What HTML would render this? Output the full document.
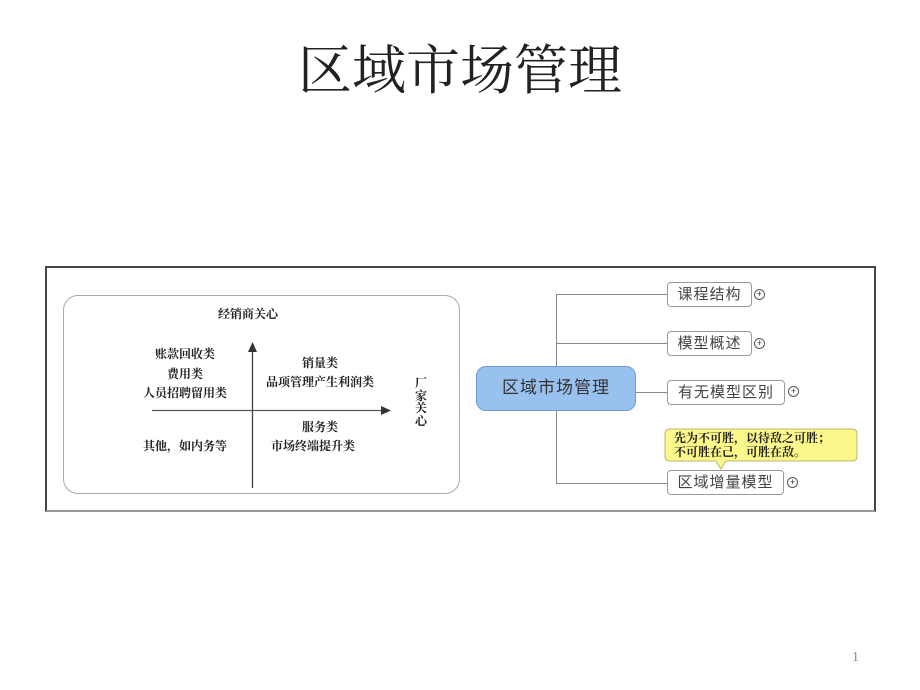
<!DOCTYPE html>
<html><head><meta charset="utf-8"><style>
body{margin:0;width:920px;height:690px;background:#fff;position:relative;overflow:hidden;font-family:"Liberation Serif","Noto Serif CJK SC",serif;}
.a{position:absolute;white-space:nowrap;}
.t{font-family:"Liberation Serif","Noto Serif CJK SC",serif;font-size:12px;font-weight:bold;color:#222;text-align:center;}
.n{position:absolute;border:1px solid #999;border-radius:4px;background:#fff;font-family:"Liberation Sans","Noto Sans CJK SC",sans-serif;font-size:15px;color:#444;box-sizing:border-box;text-align:center;line-height:23px;letter-spacing:1px;}
.p{position:absolute;width:9px;height:9px;border:1px solid #555;border-radius:50%;font-size:9px;line-height:9px;text-align:center;color:#333;font-family:"Liberation Sans",sans-serif;}
</style></head><body>
<div class="a" style="left:0;width:920px;top:38px;text-align:center;font-size:54px;line-height:66px;color:#222;">区域市场管理</div>
<div class="a" style="left:45px;top:266px;width:827px;height:242px;border:2px solid #444;border-bottom-color:#999;"></div>
<div class="a" style="left:63px;top:295px;width:395px;height:197px;border:1px solid #aaa;border-radius:15px;"></div>
<svg class="a" style="left:0;top:0" width="920" height="690">
<line x1="252.5" y1="350" x2="252.5" y2="488" stroke="#444" stroke-width="1.3"/>
<polygon points="252.5,342 248,352 257,352" fill="#333"/>
<line x1="152" y1="410.5" x2="382" y2="410.5" stroke="#555" stroke-width="1.3"/>
<polygon points="391,410.5 381,406 381,415" fill="#333"/>
<g stroke="#888" stroke-width="1" fill="none">
<line x1="556.5" y1="294.5" x2="556.5" y2="483.5"/>
<line x1="556" y1="294.5" x2="667" y2="294.5"/>
<line x1="556" y1="343.5" x2="667" y2="343.5"/>
<line x1="636" y1="392.5" x2="667" y2="392.5"/>
<line x1="556" y1="483.5" x2="667" y2="483.5"/>
</g>
<path d="M670,429 H852 Q857,429 857,434 V456 Q857,461 852,461 H726 L721,469 L716,461 H670 Q665,461 665,456 V434 Q665,429 670,429 Z" fill="#fbf78a" stroke="#b8b870"/>
</svg>
<div class="a t" style="left:188px;width:120px;top:305px;">经销商关心</div>
<div class="a t" style="left:125px;width:120px;top:345px;">账款回收类</div>
<div class="a t" style="left:125px;width:120px;top:365px;">费用类</div>
<div class="a t" style="left:125px;width:120px;top:384px;">人员招聘留用类</div>
<div class="a t" style="left:260px;width:120px;top:354px;">销量类</div>
<div class="a t" style="left:250px;width:140px;top:373px;">品项管理产生利润类</div>
<div class="a t" style="left:260px;width:120px;top:418px;">服务类</div>
<div class="a t" style="left:253px;width:120px;top:437px;">市场终端提升类</div>
<div class="a t" style="left:125px;width:120px;top:437px;">其他，如内务等</div>
<div class="a t" style="left:414px;width:14px;top:377px;white-space:normal;line-height:12.5px;">厂家关心</div>
<div class="a" style="left:476px;top:366px;width:160px;height:45px;box-sizing:border-box;background:#98c1ef;border:1.5px solid #6d9bd3;border-radius:10px;font-family:'Liberation Sans','Noto Sans CJK SC',sans-serif;font-size:17px;line-height:42px;text-align:center;color:#333;letter-spacing:1px;">区域市场管理</div>
<div class="n" style="left:667px;top:282px;width:85px;height:25px;">课程结构</div>
<div class="n" style="left:667px;top:331px;width:85px;height:25px;">模型概述</div>
<div class="n" style="left:667px;top:380px;width:118px;height:25px;">有无模型区别</div>
<div class="n" style="left:667px;top:470px;width:117px;height:25px;">区域增量模型</div>
<div class="p" style="left:754px;top:289px;">+</div>
<div class="p" style="left:754px;top:338px;">+</div>
<div class="p" style="left:788px;top:386px;">+</div>
<div class="p" style="left:787px;top:477px;">+</div>
<div class="a" style="left:674px;top:431px;font-size:12px;line-height:14px;color:#222;font-weight:bold;">先为不可胜，以待敌之可胜；<br>不可胜在己，可胜在敌。</div>
<div class="a" style="left:852px;top:650px;font-size:14px;color:#888;">1</div>
</body></html>
